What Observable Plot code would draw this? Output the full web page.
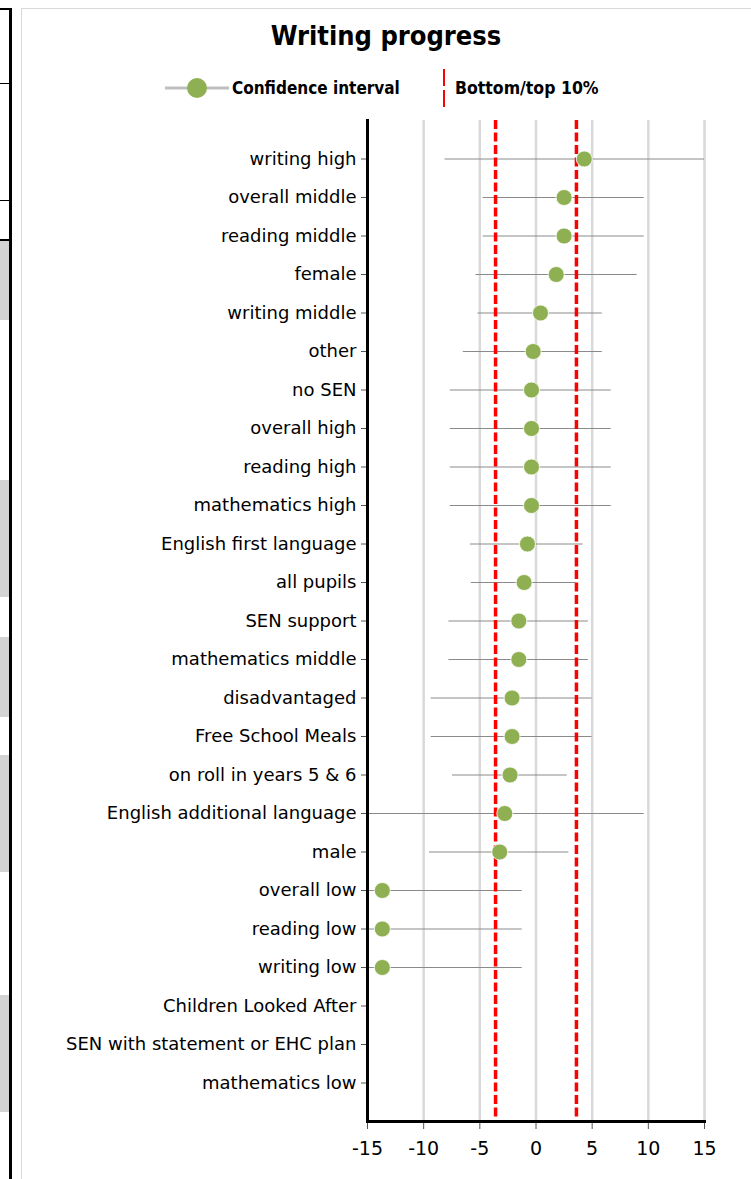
<!DOCTYPE html>
<html>
<head>
<meta charset="utf-8">
<script src="https://cdn.jsdelivr.net/npm/d3@7"></script>
<script src="https://cdn.jsdelivr.net/npm/@observablehq/plot@0.6"></script>
<style>
  html, body { margin: 0; padding: 0; background: #fff; }
  body { width: 751px; height: 1179px; position: relative; overflow: hidden;
         font-family: "DejaVu Sans Condensed", "DejaVu Sans", sans-serif; }
  .abs { position: absolute; }
  #title { left: 0; width: 772px; top: 20px; text-align: center; font-weight: bold; font-size: 27px; color: #000; }
  #legend { left: 0; top: 66px; width: 751px; height: 44px; }
  #chart { left: 0; top: 110px; }
</style>
</head>
<body>
<!-- left strip of neighbouring page -->
<div class="abs" style="left:9px;top:8px;width:3px;height:1171px;background:#000"></div>
<div class="abs" style="left:0;top:8px;width:12px;height:2px;background:#000"></div>
<div class="abs" style="left:0;top:83px;width:12px;height:1px;background:#000"></div>
<div class="abs" style="left:0;top:200px;width:12px;height:1px;background:#000"></div>
<div class="abs" style="left:0;top:239px;width:12px;height:2px;background:#000"></div>
<div class="abs" style="left:0;top:241px;width:9px;height:79px;background:#d3d3d3"></div>
<div class="abs" style="left:0;top:480px;width:9px;height:117px;background:#d3d3d3"></div>
<div class="abs" style="left:0;top:637px;width:9px;height:80px;background:#d3d3d3"></div>
<div class="abs" style="left:0;top:755px;width:9px;height:117px;background:#d3d3d3"></div>
<div class="abs" style="left:0;top:995px;width:9px;height:117px;background:#d3d3d3"></div>
<!-- panel border -->
<div class="abs" style="left:21px;top:8px;width:730px;height:1171px;border-left:1px solid #d9d9d9;border-top:1px solid #d9d9d9;box-sizing:border-box"></div>

<div id="title" class="abs">Writing progress</div>
<svg id="legend" class="abs" width="751" height="44">
  <line x1="165" x2="229" y1="22" y2="22" stroke="#bfbfbf" stroke-width="3"/>
  <circle cx="197" cy="22" r="10" fill="#8fb052"/>
  <text x="232" y="28" font-weight="bold" font-size="17" font-family="DejaVu Sans Condensed, DejaVu Sans, sans-serif">Confidence interval</text>
  <line x1="444" x2="444" y1="3" y2="41" stroke="#ff0000" stroke-width="2" stroke-dasharray="17,4"/>
  <text x="455" y="28" font-weight="bold" font-size="17.5" font-family="DejaVu Sans Condensed, DejaVu Sans, sans-serif">Bottom/top 10%</text>
</svg>
<div id="chart" class="abs"></div>

<script>
const labels = [
  "writing high", "overall middle", "reading middle", "female", "writing middle",
  "other", "no SEN", "overall high", "reading high", "mathematics high",
  "English first language", "all pupils", "SEN support", "mathematics middle", "disadvantaged",
  "Free School Meals", "on roll in years 5 & 6", "English additional language", "male", "overall low",
  "reading low", "writing low", "Children Looked After", "SEN with statement or EHC plan", "mathematics low"
];
const scores = [4.3, 2.5, 2.5, 1.8, 0.4, -0.25, -0.4, -0.4, -0.4, -0.4,
  -0.76, -1.06, -1.53, -1.53, -2.13, -2.13, -2.31, -2.78, -3.23, -13.68,
  -13.68, -13.68, null, null, null];
const lower = [-8.1, -4.7, -4.7, -5.34, -5.16, -6.47, -7.63, -7.63, -7.63, -7.63,
  -5.85, -5.76, -7.75, -7.75, -9.33, -9.33, -7.43, -15, -9.48, -15,
  -15, -15, null, null, null];
const upper = [15, 9.63, 9.63, 9.0, 5.9, 5.9, 6.7, 6.7, 6.7, 6.7,
  4.2, 3.53, 4.66, 4.66, 4.99, 4.99, 2.78, 9.63, 2.93, -1.23,
  -1.23, -1.23, null, null, null];
const thresholds = [-3.6, 3.6];
const xTicks = [-15, -10, -5, 0, 5, 10, 15];
const gridTicks = [-10, -5, 0, 5, 10, 15];

const rows = labels.map((label, i) => ({label, score: scores[i], lo: lower[i], hi: upper[i]}));
const valid = rows.filter(d => d.score != null);

const chart = Plot.plot({
  width: 751,
  height: 1060,
  marginTop: 10,
  marginBottom: 49,
  marginLeft: 367,
  marginRight: 47,
  style: {fontFamily: "'DejaVu Sans', sans-serif", fontSize: "18px", color: "#000", background: "transparent"},
  x: {domain: [-15, 15], label: null},
  y: {type: "point", domain: labels, padding: 1, round: false, label: null},
  marks: [
    Plot.ruleX(gridTicks, {stroke: "#d9d9d9", strokeWidth: 2.5}),
    Plot.ruleY(valid, {y: "label", x1: "lo", x2: "hi", stroke: "#8a8a8a", strokeWidth: 1}),
    Plot.ruleX(thresholds, {stroke: "#ff0000", strokeWidth: 3.5, strokeDasharray: "9,3.5"}),
    Plot.dot(valid, {x: "score", y: "label", r: 8, fill: "#8fb052", stroke: "#ffffff", strokeWidth: 0.8}),
    Plot.axisY({tickSize: 6, tickPadding: 5, fontSize: 18, stroke: "#555", label: null}),
    Plot.axisX({ticks: xTicks, tickSize: 8, tickPadding: 12, fontSize: 19, tickFormat: d => String(d), stroke: "#555", label: null}),
    Plot.frame({anchor: "left", stroke: "#000", strokeWidth: 3}),
    Plot.frame({anchor: "bottom", stroke: "#000", strokeWidth: 3})
  ]
});
document.getElementById("chart").appendChild(chart);
</script>
</body>
</html>
